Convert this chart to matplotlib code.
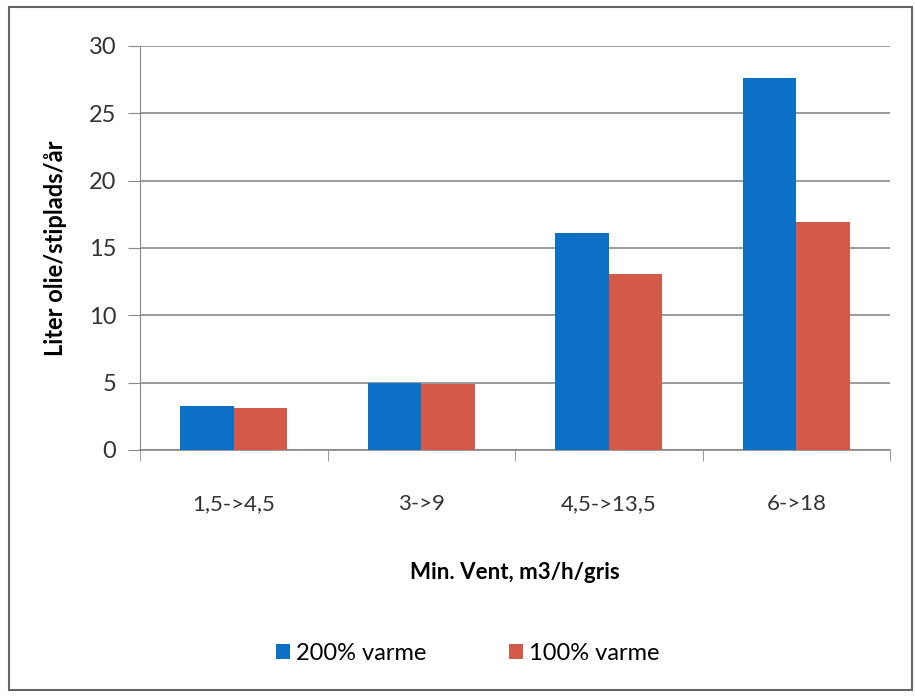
import numpy as np
import matplotlib.pyplot as plt
from matplotlib.patches import Rectangle

categories = ["1,5->4,5", "3->9", "4,5->13,5", "6->18"]
varme_200 = [3.3, 5.0, 16.1, 27.6]
varme_100 = [3.1, 4.9, 13.1, 16.9]
series_names = ["200% varme", "100% varme"]

plt.rcParams['font.family'] = ['Lato', 'DejaVu Sans']

fig = plt.figure(figsize=(9.15, 6.96), dpi=100)
ax = fig.add_axes([140 / 915, 1 - 450 / 696, 750 / 915, 404 / 696])

x = np.arange(len(categories))
w = 0.285
ax.bar(x - w / 2, varme_200, w, color="#0b70c6", label=series_names[0], zorder=3)
ax.bar(x + w / 2, varme_100, w, color="#d35a48", label=series_names[1], zorder=3)

ax.set_xlim(-0.5, len(categories) - 0.5)
ax.set_ylim(0, 30)
ax.set_yticks(range(0, 31, 5))
ax.set_xticks(x)
ax.set_xticklabels(categories, fontsize=16, color="#333333")
ax.set_xticks(np.arange(-0.5, len(categories) + 0.5, 1), minor=True)
ax.tick_params(axis="x", which="major", length=0, pad=32)
ax.tick_params(axis="x", which="minor", length=8, color="#888888")
ax.tick_params(axis="y", length=9, color="#888888", labelsize=17, labelcolor="#333333", pad=8)
ax.grid(axis="y", color="#8a8a8a", linewidth=1.2, zorder=0)

for s in ["top", "right"]:
    ax.spines[s].set_visible(False)
ax.spines["left"].set_color("#888888")
ax.spines["bottom"].set_color("#888888")
ax.spines["bottom"].set_linewidth(1.2)

ax.set_ylabel("Liter olie/stiplads/år", fontsize=17, fontweight="bold", labelpad=16)
ax.set_xlabel("Min. Vent, m3/h/gris", fontsize=16, fontweight="bold", labelpad=34)

fig.legend(loc="center", bbox_to_anchor=(468 / 915, 1 - 653 / 696), ncol=2, frameon=False,
           fontsize=17, handlelength=0.6, handleheight=0.6, handletextpad=0.25, columnspacing=3.5)

fig.patches.append(Rectangle((9 / 915, 6 / 696), 903 / 915, 683 / 696, transform=fig.transFigure,
                             fill=False, edgecolor="#666666", linewidth=1.5))

fig.savefig("out.png", dpi=100)
